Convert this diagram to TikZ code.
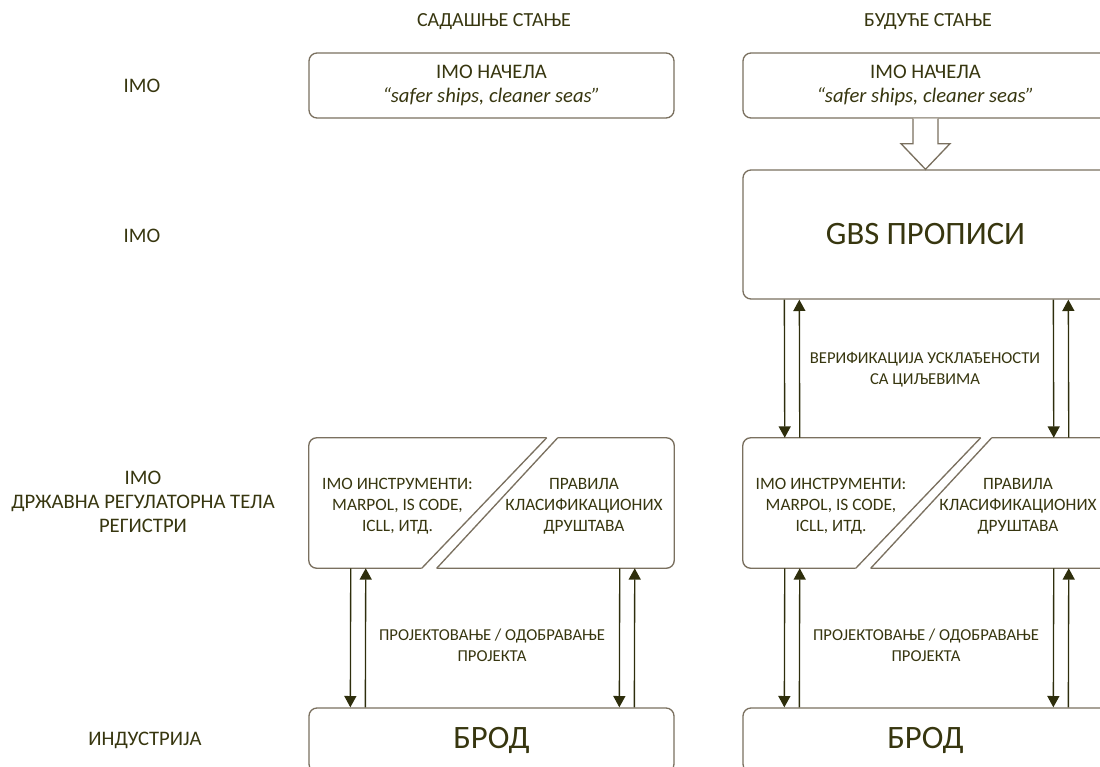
\documentclass[tikz,border=0pt]{standalone}
\usepackage{fontspec}
\setmainfont{Carlito}
\usetikzlibrary{arrows.meta, positioning, calc}
\definecolor{OliveText}{HTML}{37360F}
\definecolor{BoxEdge}{HTML}{7A705F}
\definecolor{ArrowDark}{HTML}{2E2E0C}

\begin{document}
\begin{tikzpicture}[x=0.75pt, y=-0.75pt, text=OliveText, font=\fontsize{12.5}{15.5}\selectfont,
    box/.style={draw=BoxEdge, line width=1pt, rounded corners=6pt, minimum width=273.75pt, align=center},
    big/.style={font=\fontsize{15.5}{18.2}\selectfont},
    huge/.style={font=\fontsize{24.5}{28}\selectfont},
    inner/.style={align=center, font=\fontsize{13}{15.8}\selectfont},
    arr/.style={-{Triangle[length=8.5pt, width=9pt]}, ArrowDark, line width=1pt},
    edge/.style={draw=BoxEdge, line width=1pt}]
        \useasboundingbox (0,0) rectangle (1100,767);
        \clip (0,0) rectangle (1100,767);

        % Headings and row labels
        \node[font=\fontsize{15}{18}\selectfont] (now) at (494,22) {САДАШЊЕ СТАЊЕ};
        \node[font=\fontsize{15}{18}\selectfont] (future) at (928,22) {БУДУЋЕ СТАЊЕ};
        \node[big] (rowa) at (142,86) {IMO};
        \node[big] (rowb) at (142,236) {IMO};
        \node[big, align=center] (rowc) at (143,502) {IMO\\ДРЖАВНА РЕГУЛАТОРНА ТЕЛА\\РЕГИСТРИ};
        \node[big] (rowd) at (145,740) {ИНДУСТРИЈА};

        % Nodes - current state
        \node[box, big, minimum height=48.75pt] (aims1) at (491.5,85.5) {IMO НАЧЕЛА\\\textit{“safer ships, cleaner seas”}};
        \node[minimum width=273.75pt, minimum height=97.5pt] (inst1) at (491.5,503) {};
        \node[inner] (tools1) at (397.5,506) {IMO ИНСТРУМЕНТИ:\\MARPOL, IS CODE,\\ICLL, ИТД.};
        \node[inner] (rules1) at (584,506) {ПРАВИЛА\\КЛАСИФИКАЦИОНИХ\\ДРУШТАВА};
        \node[box, huge, minimum height=48pt] (ship1) at (491.5,740) {БРОД};

        % Nodes - future state
        \node[box, big, minimum height=48.75pt] (aims2) at (925.5,85.5) {IMO НАЧЕЛА\\\textit{“safer ships, cleaner seas”}};
        \node[box, huge, minimum height=96.75pt] (gbs) at (925.5,234.5) {GBS ПРОПИСИ};
        \node[minimum width=273.75pt, minimum height=97.5pt] (inst2) at (925.5,503) {};
        \node[inner] (tools2) at (831,506) {IMO ИНСТРУМЕНТИ:\\MARPOL, IS CODE,\\ICLL, ИТД.};
        \node[inner] (rules2) at (1018,506) {ПРАВИЛА\\КЛАСИФИКАЦИОНИХ\\ДРУШТАВА};
        \node[box, huge, minimum height=48pt] (ship2) at (925.5,740) {БРОД};

        % Split instrument boxes
        \draw[edge, rounded corners=6pt] ($(inst1.north west)+(238,0)$) -- (inst1.north west) -- (inst1.south west) -- ($(inst1.south west)+(113,0)$);
        \draw[edge] ($(inst1.south west)+(113,0)$) -- ($(inst1.north west)+(238,0)$);
        \draw[edge, rounded corners=6pt] ($(inst1.north west)+(249,0)$) -- (inst1.north east) -- (inst1.south east) -- ($(inst1.south west)+(128,0)$);
        \draw[edge] ($(inst1.south west)+(128,0)$) -- ($(inst1.north west)+(249,0)$);
        \draw[edge, rounded corners=6pt] ($(inst2.north west)+(238,0)$) -- (inst2.north west) -- (inst2.south west) -- ($(inst2.south west)+(113,0)$);
        \draw[edge] ($(inst2.south west)+(113,0)$) -- ($(inst2.north west)+(238,0)$);
        \draw[edge, rounded corners=6pt] ($(inst2.north west)+(249,0)$) -- (inst2.north east) -- (inst2.south east) -- ($(inst2.south west)+(128,0)$);
        \draw[edge] ($(inst2.south west)+(128,0)$) -- ($(inst2.north west)+(249,0)$);

        % Hollow arrow
        \draw[edge, fill=white] ($(aims2.south)+(-12.5,0)$) -- ++(0,25) -- ++(-12,0) -- (gbs.north) -- ($(aims2.south)+(24.5,25)$) -- ++(-12,0) -- ($(aims2.south)+(12.5,0)$);

        % Arrows
        \draw[arr] ($(inst1.south west)+(42,0)$) -- ($(ship1.north west)+(42,0)$);
        \draw[arr] ($(ship1.north west)+(57,0)$) -- ($(inst1.south west)+(57,0)$);
        \draw[arr] ($(inst1.south west)+(311,0)$) -- ($(ship1.north west)+(311,0)$);
        \draw[arr] ($(ship1.north west)+(326,0)$) -- ($(inst1.south west)+(326,0)$);
        \draw[arr] ($(inst2.south west)+(42,0)$) -- ($(ship2.north west)+(42,0)$);
        \draw[arr] ($(ship2.north west)+(57,0)$) -- ($(inst2.south west)+(57,0)$);
        \draw[arr] ($(inst2.south west)+(311,0)$) -- ($(ship2.north west)+(311,0)$);
        \draw[arr] ($(ship2.north west)+(326,0)$) -- ($(inst2.south west)+(326,0)$);
        \draw[arr] ($(gbs.south west)+(42,0)$) -- ($(inst2.north west)+(42,0)$);
        \draw[arr] ($(inst2.north west)+(57,0)$) -- ($(gbs.south west)+(57,0)$);
        \draw[arr] ($(gbs.south west)+(311,0)$) -- ($(inst2.north west)+(311,0)$);
        \draw[arr] ($(inst2.north west)+(326,0)$) -- ($(gbs.south west)+(326,0)$);

        % Arrow labels
        \node[align=center] (design1) at (492,645) {ПРОЈЕКТОВАЊЕ / ОДОБРАВАЊЕ\\ПРОЈЕКТА};
        \node[align=center] (design2) at (926,645) {ПРОЈЕКТОВАЊЕ / ОДОБРАВАЊЕ\\ПРОЈЕКТА};
        \node[align=center] (verify) at (925,370) {ВЕРИФИКАЦИЈА УСКЛАЂЕНОСТИ\\СА ЦИЉЕВИМА};
    \end{tikzpicture}
\end{document}
